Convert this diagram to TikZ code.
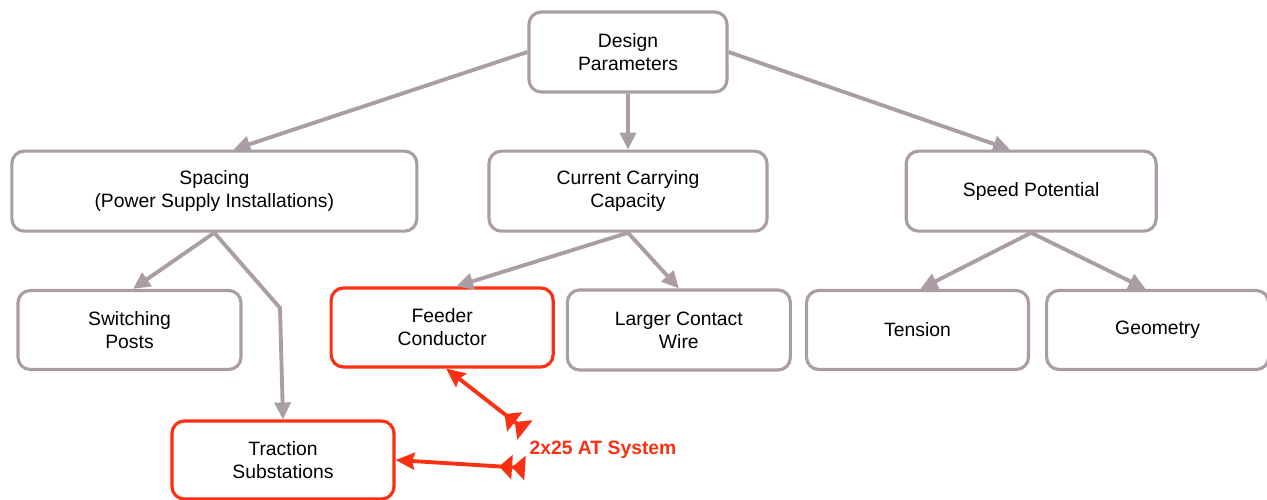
\documentclass[tikz,border=0pt]{standalone}
\usepackage{fontspec}
\setmainfont{Liberation Sans}
\usetikzlibrary{arrows.meta,positioning}
\definecolor{boxgray}{RGB}{170,157,166}
\definecolor{hotred}{RGB}{250,48,18}

\begin{document}
\begin{tikzpicture}[
    every node/.style={font=\fontsize{11}{13}\selectfont},
    box/.style={draw=boxgray, line width=1.8pt, rounded corners=7pt, align=center, fill=white, minimum height=1.6cm},
    keybox/.style={box, draw=hotred},
    flow/.style={-{Triangle[length=3.4mm, width=3.2mm]}, line width=2.2pt, draw=boxgray},
    system/.style={{Triangle[reversed, length=2.6mm, width=4.8mm] Triangle[reversed, length=2.6mm, width=4.8mm]}-{Stealth[length=3.8mm, width=3.4mm, inset=0.5mm]}, line width=2.2pt, draw=hotred}
]
\useasboundingbox (0,0) rectangle (25.34,-10);
\node[box, minimum width=3.96cm] (design) at (12.56,-1.04) {Design\\Parameters};
\node[box, minimum width=5.56cm, below=1.12cm of design] (current) {Current Carrying\\Capacity};
\node[box, minimum width=8.1cm, left=1.38cm of current] (spacing) {Spacing\\(Power Supply Installations)};
\node[box, minimum width=5.0cm, right=2.72cm of current] (speed) {Speed Potential};
\node[box, minimum width=4.46cm, minimum height=1.58cm] (switching) at (2.59,-6.6) {Switching\\Posts};
\node[keybox, minimum width=4.44cm, minimum height=1.58cm, right=1.74cm of switching, yshift=0.05cm] (feeder) {Feeder\\Conductor};
\node[box, minimum width=4.46cm, right=0.22cm of feeder, yshift=-0.05cm] (contact) {Larger Contact\\Wire};
\node[box, minimum width=4.44cm, minimum height=1.58cm, right=0.26cm of contact] (tension) {Tension};
\node[box, minimum width=4.44cm, minimum height=1.58cm, right=0.3cm of tension] (geometry) {Geometry};
\node[keybox, minimum width=4.44cm, minimum height=1.56cm] (traction) at (5.66,-9.2) {Traction\\Substations};
\node[text=hotred, font=\fontsize{11}{13}\selectfont\bfseries] (atlabel) at (12.06,-9.0) {2x25 AT System};
\coordinate (bend) at (5.6,-6.16);
\coordinate (tailA) at (10.5,-8.6);
\coordinate (tailB) at (10.5,-9.36);
\draw[flow] (design.west) -- ([xshift=0.38cm]spacing.north);
\draw[flow] (design.south) -- (current.north);
\draw[flow] (design.east) -- ([xshift=-0.42cm]speed.north);
\draw[flow] (spacing.south) -- ([xshift=0.07cm]switching.north);
\draw[flow] (spacing.south) -- (bend) -- (traction.north);
\draw[flow] (current.south) -- ([xshift=0.28cm]feeder.north);
\draw[flow] (current.south) -- (contact.north);
\draw[flow] (speed.south) -- ([xshift=0.06cm]tension.north);
\draw[flow] (speed.south) -- ([xshift=-0.24cm]geometry.north);
\draw[system] (tailA) -- ([xshift=0.08cm]feeder.south);
\draw[system] (tailB) -- (traction.east);
\end{tikzpicture}
\end{document}
